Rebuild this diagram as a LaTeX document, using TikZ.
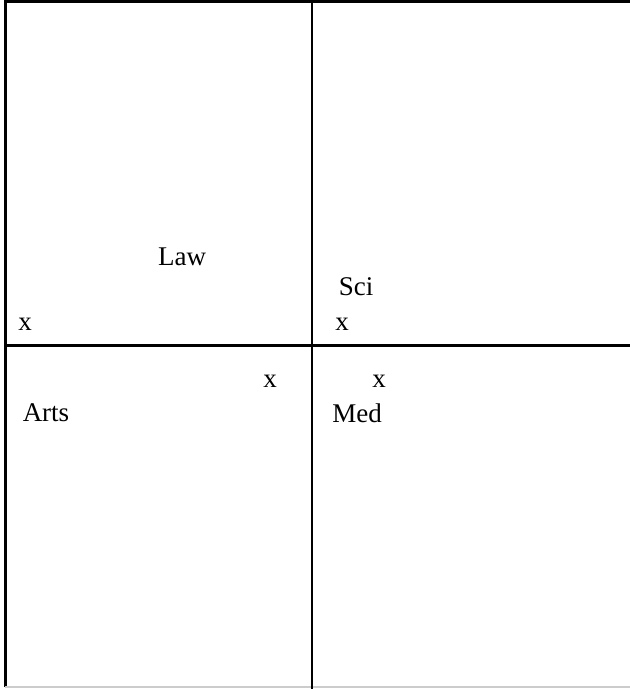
\documentclass[tikz,border=0pt]{standalone}
\usepackage{fontspec}
\setmainfont{Liberation Serif}
\usepackage{tikz}
\usetikzlibrary{positioning}

\begin{document}
\begin{tikzpicture}[x=0.5pt, y=-0.5pt,
  rule/.style={draw=black, line width=1.5pt},
  divider/.style={draw=black, line width=1.1pt},
  lbl/.style={inner sep=0pt, font=\fontsize{13.5}{16}\selectfont}
]
  \useasboundingbox (0,0) rectangle (630,689);

  % Frame
  \coordinate (tl) at (5,2);
  \coordinate (tr) at (630,2);
  \coordinate (bl) at (5,687);
  \coordinate (br) at (630,687);
  \coordinate (vt) at (312,2);
  \coordinate (vb) at (312,689);
  \coordinate (hl) at (5,345);
  \coordinate (hr) at (630,345);

  \draw[rule] (tr) -- (tl) -- (bl);
  \draw[draw=black!20, line width=0.6pt] (bl) -- (br);
  \draw[divider] (vt) -- (vb);
  \draw[rule] (hl) -- (hr);

  % Labels
  \node[lbl] (law)  at (182,257) {Law};
  \node[lbl] (sci)  at (356,287) {Sci};
  \node[lbl] (arts) at (46,413)  {Arts};
  \node[lbl] (med)  at (357,413) {Med};

  % Points
  \node[lbl] (xlaw)  at (25,324)  {x};
  \node[lbl] (xsci)  at (342,324) {x};
  \node[lbl] (xarts) at (270,381) {x};
  \node[lbl] (xmed)  at (379,381) {x};
\end{tikzpicture}
\end{document}
